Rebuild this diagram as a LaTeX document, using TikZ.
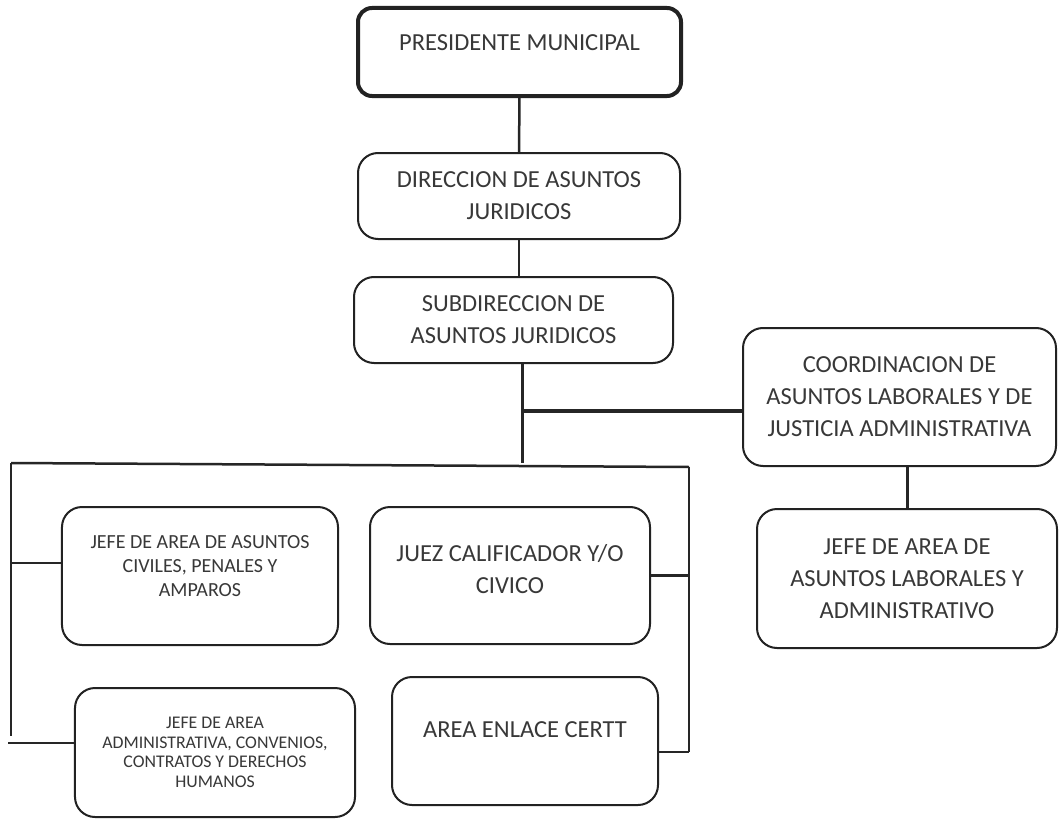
\documentclass[tikz,border=0pt]{standalone}
\usepackage{fontspec}
\setmainfont{Carlito}
\usepackage{xcolor}
\definecolor{boxColor}{HTML}{222222}
\definecolor{linkColor}{HTML}{262626}
\definecolor{labelTextColor}{HTML}{383838}
\def\textA{PRESIDENTE MUNICIPAL}
\def\textB{DIRECCION DE ASUNTOS\\JURIDICOS}
\def\textC{SUBDIRECCION DE\\ASUNTOS JURIDICOS}
\def\textD{COORDINACION DE\\ASUNTOS LABORALES Y DE\\JUSTICIA ADMINISTRATIVA}
\def\textE{JEFE DE AREA DE\\ASUNTOS LABORALES Y\\ADMINISTRATIVO}
\def\textF{JEFE DE AREA DE ASUNTOS\\CIVILES, PENALES Y\\AMPAROS}
\def\textG{JUEZ CALIFICADOR Y/O\\CIVICO}
\def\textH{JEFE DE AREA\\ADMINISTRATIVA, CONVENIOS,\\CONTRATOS Y DERECHOS\\HUMANOS}
\def\textI{AREA ENLACE CERTT}

\begin{document}
\begin{tikzpicture}[x=1bp,y=-1bp,
box/.style={draw=boxColor, line width=2bp, rounded corners=20bp, inner sep=0pt,
align=center, text=labelTextColor, font=\fontsize{24.5bp}{32bp}\selectfont},
smallbox/.style={box, font=\fontsize{20bp}{24bp}\selectfont},
tinybox/.style={box, font=\fontsize{17.8bp}{19.5bp}\selectfont},
link/.style={draw=linkColor, line width=2.5bp}]

% page
\fill[white] (0, 0) rectangle (1060, 821);

% box layer
\begin{scope}
\node[box, line width=4bp, rounded corners=14bp, minimum width=323bp,
minimum height=88bp, text depth=18bp] (pres) at (519.5, 52) {\textA};
\node[box, minimum width=322bp, minimum height=86bp] (dir) at (519, 196) {\textB};
\node[box, minimum width=319bp, minimum height=86bp] (sub) at (513.5, 320) {\textC};
\node[box, minimum width=313bp, minimum height=138bp] (coord) at (899.5, 397) {\textD};
\node[box, minimum width=300bp, minimum height=139bp] (lab) at (907, 578.5) {\textE};
\node[smallbox, minimum width=276bp, minimum height=138bp,
text depth=20bp] (civ) at (200, 576) {\textF};
\node[box, minimum width=280bp, minimum height=137bp,
text depth=14bp] (juez) at (510, 575.5) {\textG};
\node[tinybox, minimum width=280bp, minimum height=129bp] (adm) at (215, 752.5) {\textH};
\node[box, minimum width=266bp, minimum height=128bp,
text depth=22bp] (cert) at (525, 741) {\textI};
\end{scope}

% link layer
\begin{scope}
\coordinate (tee) at (522, 411);
\coordinate (hub) at (522, 463);
\coordinate (busL) at (11, 463);
\coordinate (busR) at (689, 467);
\coordinate (busLend) at (11, 736);
\coordinate (busRend) at (689, 752);
\coordinate (civIn) at (11, 563);
\coordinate (admIn) at (8, 743);
\draw[link] (pres) -- (dir);
\draw[link] (dir.south) -- (dir.south |- sub.north);
\draw[link, line width=3bp] (sub.south -| hub) -- (hub);
\draw[link, line width=3.5bp] (tee) -- (tee -| coord.west);
\draw[link, line width=3bp] (coord.south -| lab.north) -- (lab.north);
\draw[link] (busL) -- (busR);
\draw[link] (busL) -- (busLend);
\draw[link] (busR) -- (busRend);
\draw[link] (civIn) -- (civIn -| civ.west);
\draw[link] (admIn) -- (admIn -| adm.west);
\draw[link] (juez.east) -- (juez.east -| busR);
\draw[link] (cert.east |- busRend) -- (busRend);
\end{scope}

\end{tikzpicture}
\end{document}
